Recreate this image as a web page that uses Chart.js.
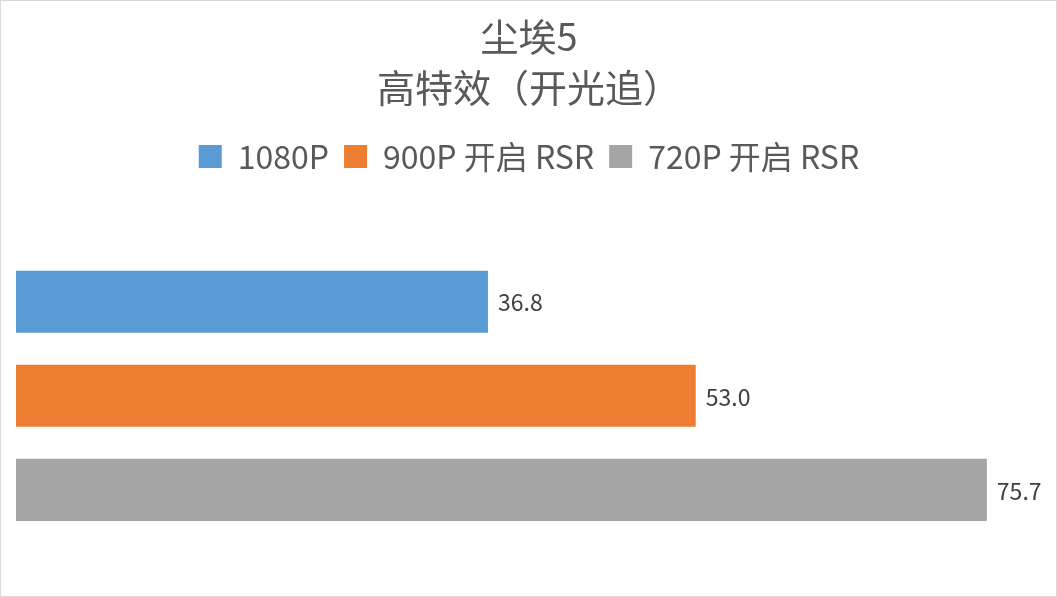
<!DOCTYPE html>
<html>
<head>
<meta charset="utf-8">
<script src="https://cdn.jsdelivr.net/npm/chart.js@4"></script>
<style>
    html, body { margin: 0; padding: 0; background: #fff; }
    #wrap {
        width: 1057px;
        height: 597px;
        box-sizing: border-box;
        border: 1px solid #d9d9d9;
        background: #fff;
    }
    #wrap canvas { display: block; }
</style>
</head>
<body>
<div id="wrap"><canvas id="barChart" width="1055" height="595"></canvas></div>
<script>
// Chart data
const titleLines = ['尘埃5', '高特效（开光追）'];
const categories = [''];
const seriesNames = ['1080P', '900P 开启 RSR', '720P 开启 RSR'];
const seriesValues = [36.8, 53.0, 75.7];
const seriesColors = ['#5b9bd5', '#ed7d31', '#a5a5a5'];
const axisMin = 0;
const axisMax = 80;

const FONT = '"Noto Sans CJK SC", "Noto Sans", sans-serif';

// Value labels at the end of each bar
const barLabels = {
    id: 'barLabels',
    afterDatasetsDraw(chart) {
        const ctx = chart.ctx;
        ctx.save();
        ctx.font = '23px ' + FONT;
        ctx.fillStyle = '#404040';
        ctx.textAlign = 'left';
        ctx.textBaseline = 'middle';
        chart.data.datasets.forEach((ds, i) => {
            const meta = chart.getDatasetMeta(i);
            meta.data.forEach((bar, j) => {
                ctx.fillText(ds.data[j].toFixed(1), bar.x + 10, bar.y + 1);
            });
        });
        ctx.restore();
    }
};

const datasets = seriesNames.map((name, i) => ({
    label: name,
    data: [seriesValues[i]],
    backgroundColor: seriesColors[i],
    borderWidth: 0,
    categoryPercentage: 282 / 340,
    barPercentage: 62 / 94
}));

new Chart(document.getElementById('barChart'), {
    type: 'bar',
    data: {
        labels: categories,
        datasets: datasets
    },
    plugins: [barLabels],
    options: {
        indexAxis: 'y',
        responsive: false,
        animation: false,
        layout: {
            padding: { left: 15, right: 14, top: 0, bottom: 30 }
        },
        plugins: {
            title: {
                display: true,
                text: titleLines,
                color: '#595959',
                font: { family: FONT, size: 38, weight: 'normal', lineHeight: 1.35 },
                padding: { top: 10, bottom: 12 }
            },
            legend: {
                display: true,
                position: 'top',
                labels: {
                    color: '#595959',
                    font: { family: FONT, size: 32 },
                    boxWidth: 23,
                    boxHeight: 23,
                    padding: 15
                }
            },
            tooltip: { enabled: false }
        },
        scales: {
            x: {
                position: 'top',
                min: axisMin,
                max: axisMax,
                grid: { display: false },
                border: { display: false },
                ticks: { display: false },
                afterFit: (axis) => { axis.height = 43; }
            },
            y: {
                display: false
            }
        }
    }
});
</script>
</body>
</html>
